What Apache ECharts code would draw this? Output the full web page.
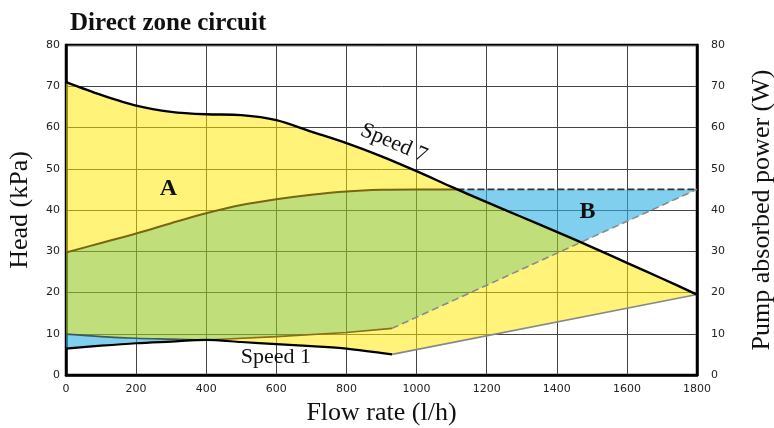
<!DOCTYPE html>
<html>
<head>
<meta charset="utf-8">
<script src="https://cdn.jsdelivr.net/npm/echarts@6/dist/echarts.min.js"></script>
<style>html,body{margin:0;padding:0;background:#fff}#c{width:774px;height:428px}</style>
</head>
<body>
<div id="c"></div>
<script>
// ---- Data ----
// Speed 7 head curve (kPa)
const s7Flow = [0,100,200,300,400,500,600,700,800,900,1000,1100,1200,1300,1400,1500,1600,1700,1800];
const s7Head = [71,67.9,65.3,63.8,63.2,63.0,61.8,59.0,56.2,53.0,49.4,45.6,41.9,38.3,34.7,31.0,27.2,23.4,19.5];
// Speed 1 head curve (kPa) then minimum line to the max flow
const s1Flow = [0,100,200,300,400,500,600,700,800,930,1800];
const s1Head = [6.4,7.1,7.7,8.1,8.5,8.0,7.5,7.0,6.4,5.0,19.5];
// Absorbed power, upper limit (W)
const puFlow = [0,100,200,300,400,500,600,700,800,900,1000,1800];
const puPower = [29.7,32.0,34.3,36.8,39.2,41.2,42.6,43.7,44.5,44.9,45.0,45.0];
// Absorbed power, lower limit (W)
const plFlow = [0,100,200,300,400,600,800,930,1800];
const plPower = [9.9,9.3,8.9,8.7,8.5,9.3,10.3,11.3,45.0];
// break flows of drawn segments
const s1End = 930;      // end of Speed 1 curve
const plSolidEnd = 930; // end of solid power-min line
const regionSplit = 400; // where Speed 1 and power-min curves touch
// text labels
const labels = [
  {text:'A', flow:292, value:45.1, font:'bold 24px "Liberation Serif"', rot:0},
  {text:'B', flow:1488, value:39.5, font:'bold 24px "Liberation Serif"', rot:0},
  {text:'Speed 7', flow:935, value:56.2, font:'22px "Liberation Serif"', rot:-0.40},
  {text:'Speed 1', flow:599, value:4.3, font:'22px "Liberation Serif"', rot:0}
];

// ---- helpers (piecewise linear) ----
function ev(xs, ys, x){
  for (let i=0;i<xs.length-1;i++){
    if (x>=xs[i] && x<=xs[i+1]){
      const t=(x-xs[i])/(xs[i+1]-xs[i]);
      return ys[i]+t*(ys[i+1]-ys[i]);
    }
  }
  return x<xs[0]?ys[0]:ys[ys.length-1];
}
function seg(xs, ys, a, b){
  const lo=Math.min(a,b), hi=Math.max(a,b);
  const pts=[[lo,ev(xs,ys,lo)]];
  for (let i=0;i<xs.length;i++) if (xs[i]>lo && xs[i]<hi) pts.push([xs[i],ys[i]]);
  pts.push([hi,ev(xs,ys,hi)]);
  return a<=b?pts:pts.reverse();
}
function cross(xs1,ys1,xs2,ys2,a,b){
  let prev=ev(xs1,ys1,a)-ev(xs2,ys2,a);
  for (let x=a+0.5;x<=b;x+=0.5){
    const d=ev(xs1,ys1,x)-ev(xs2,ys2,x);
    if ((d<=0)!==(prev<=0)) return x;
    prev=d;
  }
  return b;
}
const xa = cross(s7Flow,s7Head,puFlow,puPower,600,1800);
const xb = cross(s7Flow,s7Head,plFlow,plPower,1000,1800);
const S7=(a,b)=>seg(s7Flow,s7Head,a,b), S1=(a,b)=>seg(s1Flow,s1Head,a,b),
      PU=(a,b)=>seg(puFlow,puPower,a,b), PL=(a,b)=>seg(plFlow,plPower,a,b);

const yellowTop = [].concat(S7(0,xa), PU(xa,0));
const yellowBottom = [].concat(PL(regionSplit,xb), S7(xb,1800), S1(1800,regionSplit));
const blueLeft = [].concat(PL(0,regionSplit), S1(regionSplit,0));
const blueB = [].concat(PU(xa,1800), PL(1800,xb), S7(xb,xa));
const green = [].concat(PU(0,xa), S7(xa,xb), PL(xb,0));

const YEL='rgba(255,232,0,0.52)', BLU='rgba(43,175,227,0.6)', GRN='rgba(150,200,33,0.6)';

function polySeries(pts, fill){
  return {
    type:'custom', coordinateSystem:'cartesian2d', data:pts, silent:true, z:1,
    renderItem:function(params, api){
      if (params.dataIndex!==0) return null;
      return {type:'polygon', shape:{points:pts.map(p=>api.coord(p))}, style:{fill:fill}};
    }
  };
}
function lineSeries(pts, color, width, dash, z, smooth){
  return {type:'line', data:pts, symbol:'none', silent:true, z:z||3, smooth:smooth||false,
    lineStyle:{color:color, width:width, type:dash||'solid'}};
}

const chart = echarts.init(document.getElementById('c'));
const tickFont = {fontFamily:'DejaVu Sans', fontSize:11, color:'#222'};
const nameFont = {fontFamily:'Liberation Serif', fontSize:26, color:'#111'};
chart.setOption({
  animation:false,
  title:{text:'Direct zone circuit', left:65, top:6,
    textStyle:{fontFamily:'Liberation Serif', fontWeight:'bold', fontSize:25, color:'#111'}},
  grid:{left:66, right:77, top:45, bottom:53, outerBoundsMode:'none', containLabel:false,
    show:true, borderColor:'#000', borderWidth:2.5, backgroundColor:'transparent'},
  xAxis:{type:'value', min:0, max:1800, interval:200,
    name:'Flow rate (l/h)', nameLocation:'middle', nameGap:25, nameTextStyle:nameFont,
    axisLine:{lineStyle:{color:'#000', width:2.5}}, axisTick:{show:false},
    axisLabel:Object.assign({margin:9, formatter:v=>String(v)}, tickFont),
    splitLine:{lineStyle:{color:'#444', width:1}}},
  yAxis:[
    {type:'value', min:0, max:80, interval:10, position:'left',
      name:'Head (kPa)', nameLocation:'middle', nameGap:33, nameRotate:90, nameTextStyle:nameFont,
      axisLine:{show:true, lineStyle:{color:'#000', width:2.5}}, axisTick:{show:false},
      axisLabel:Object.assign({margin:6}, tickFont),
      splitLine:{lineStyle:{color:'#444', width:1}}},
    {type:'value', min:0, max:80, interval:10, position:'right',
      name:'Pump absorbed power (W)', nameLocation:'middle', nameGap:52, nameRotate:90, nameTextStyle:nameFont,
      axisLine:{show:true, lineStyle:{color:'#000', width:2.5}}, axisTick:{show:false},
      axisLabel:Object.assign({margin:14}, tickFont),
      splitLine:{show:false}}
  ],
  series:[
    polySeries(yellowTop, YEL),
    polySeries(yellowBottom, YEL),
    polySeries(blueLeft, BLU),
    polySeries(blueB, BLU),
    polySeries(green, GRN),
    lineSeries(PU(0,xa), '#7a6510', 2, null, 3, 0.3),
    lineSeries(PU(xa,1800), '#333', 1.6, [7,3]),
    lineSeries(PL(0,regionSplit), '#3d5a5a', 1.6, null, 3, 0.3),
    lineSeries(PL(regionSplit,plSolidEnd), '#8a6e1a', 1.6),
    lineSeries(PL(plSolidEnd,1800), '#8a8a8a', 1.6, [7,4]),
    lineSeries(S1(s1End,1800), '#888', 1.6),
    lineSeries(S1(0,s1End), '#000', 2.2, null, 4, 0.3),
    lineSeries(S7(0,1800), '#000', 2.4, null, 4, 0.3),
    {type:'custom', coordinateSystem:'cartesian2d', silent:true, z:6,
      data:labels.map(l=>[l.flow,l.value]),
      renderItem:function(params, api){
        const l=labels[params.dataIndex];
        const p=api.coord([l.flow,l.value]);
        return {type:'text', x:p[0], y:p[1], rotation:l.rot,
          style:{text:l.text, font:l.font, fill:'#111', align:'center', verticalAlign:'middle'}};
      }}
  ]
});
</script>
</body>
</html>
